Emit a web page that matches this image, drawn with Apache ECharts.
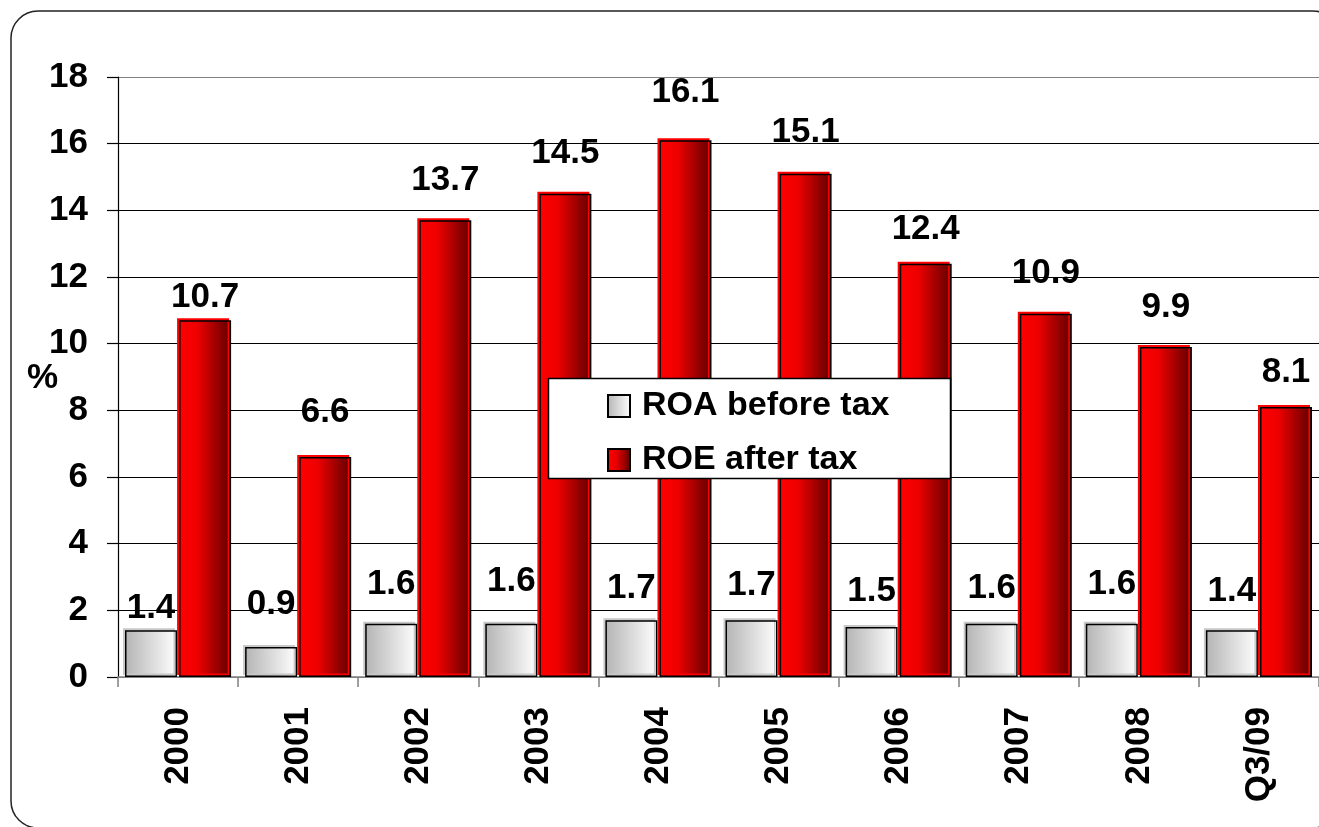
<!DOCTYPE html>
<html>
<head>
<meta charset="utf-8">
<script src="https://cdn.jsdelivr.net/npm/echarts@6/dist/echarts.min.js"></script>
<style>
  html, body { margin: 0; padding: 0; background: #ffffff; }
  #chart { width: 1319px; height: 827px; }
</style>
</head>
<body>
<div id="chart"></div>
<script>
// Profitability ratios by year, in percent
const categories = ['2000', '2001', '2002', '2003', '2004', '2005', '2006', '2007', '2008', 'Q3/09'];
const roaBeforeTax = [1.4, 0.9, 1.6, 1.6, 1.7, 1.7, 1.5, 1.6, 1.6, 1.4];
const roeAfterTax = [10.7, 6.6, 13.7, 14.5, 16.1, 15.1, 12.4, 10.9, 9.9, 8.1];
const yTicks = [0, 2, 4, 6, 8, 10, 12, 14, 16, 18];

// Gap in pixels between each bar top and its value label
const roaLabelLift = [4, 25, 22, 25, 14, 17, 18, 18, 22, 21];
const roeLabelLift = [5, 27, 22, 23, 30, 24, 17, 23, 22, 17];

const FONT = 'Arial, "Liberation Sans", sans-serif';

const greyFill = new echarts.graphic.LinearGradient(0, 0, 1, 0, [
  { offset: 0, color: '#b4b4b4' },
  { offset: 1, color: '#ffffff' }
]);
const redFill = new echarts.graphic.LinearGradient(0, 0, 1, 0, [
  { offset: 0, color: '#ff0000' },
  { offset: 0.35, color: '#ee0000' },
  { offset: 1, color: '#5e0000' }
]);

function withLabels(values, lifts) {
  return values.map((v, i) => ({ value: v, label: { distance: lifts[i] } }));
}

const labelStyle = {
  show: true,
  position: 'top',
  color: '#000000',
  fontFamily: FONT,
  fontWeight: 'bold',
  fontSize: 35,
  formatter: p => p.value.toFixed(1)
};

const chart = echarts.init(document.getElementById('chart'), null, { renderer: 'canvas' });

chart.setOption({
  backgroundColor: '#ffffff',
  animation: false,
  grid: { left: 118, top: 77, width: 1205, height: 600, containLabel: false },
  legend: {
    orient: 'vertical',
    left: 607,
    top: 389,
    padding: 0,
    itemWidth: 22,
    itemHeight: 22,
    itemGap: 20,
    icon: 'rect',
    z: 10,
    textStyle: {
      color: '#000000',
      fontFamily: FONT,
      fontWeight: 'bold',
      fontSize: 34,
      lineHeight: 30,
      padding: [0, 0, 0, 7]
    },
    data: ['ROA before tax', 'ROE after tax']
  },
  xAxis: {
    type: 'category',
    data: categories,
    axisLine: { show: true, lineStyle: { color: '#808080', width: 1.5 } },
    axisTick: { show: true, length: 10, lineStyle: { color: '#808080', width: 1.5 } },
    axisLabel: {
      rotate: 90,
      margin: 30,
      color: '#000000',
      fontFamily: FONT,
      fontWeight: 'bold',
      fontSize: 35
    }
  },
  yAxis: {
    type: 'value',
    min: yTicks[0],
    max: yTicks[yTicks.length - 1],
    interval: 2,
    axisLine: { show: true, lineStyle: { color: '#000000', width: 1.2 } },
    axisTick: { show: true, length: 11, lineStyle: { color: '#000000', width: 1.2 } },
    splitLine: {
      show: true,
      lineStyle: {
        color: ['#808080', '#000000', '#000000', '#000000', '#000000', '#000000', '#000000', '#000000', '#000000', '#808080'],
        width: 1.2
      }
    },
    axisLabel: {
      margin: 30,
      color: '#000000',
      fontFamily: FONT,
      fontWeight: 'bold',
      fontSize: 35,
      formatter: v => String(v)
    }
  },
  graphic: [
    {
      type: 'rect',
      z: -10,
      silent: true,
      shape: { x: 11, y: 11, width: 1329, height: 817, r: 27 },
      style: { fill: 'none', stroke: '#222222', lineWidth: 1.5 }
    },
    {
      type: 'text',
      left: 27,
      top: 361,
      silent: true,
      style: {
        text: '%',
        fill: '#000000',
        font: 'bold 35px ' + FONT
      }
    },
    {
      type: 'rect',
      z: 3,
      silent: true,
      shape: { x: 548.5, y: 378.5, width: 402, height: 100 },
      style: { fill: '#ffffff', stroke: '#000000', lineWidth: 1.5 }
    }
  ],
  series: [
    {
      name: 'ROA before tax',
      type: 'bar',
      barWidth: 52,
      barGap: '4%',
      data: withLabels(roaBeforeTax, roaLabelLift),
      itemStyle: {
        color: greyFill,
        borderColor: '#000000',
        borderWidth: 1.5,
        shadowColor: '#c8c8c8',
        shadowOffsetX: -2,
        shadowOffsetY: -2,
        shadowBlur: 0
      },
      label: labelStyle
    },
    {
      name: 'ROE after tax',
      type: 'bar',
      barWidth: 52,
      data: withLabels(roeAfterTax, roeLabelLift),
      itemStyle: {
        color: redFill,
        borderColor: '#000000',
        borderWidth: 1.5,
        shadowColor: '#ff0000',
        shadowOffsetX: -2,
        shadowOffsetY: -2,
        shadowBlur: 0
      },
      label: labelStyle
    }
  ]
});
</script>
</body>
</html>
